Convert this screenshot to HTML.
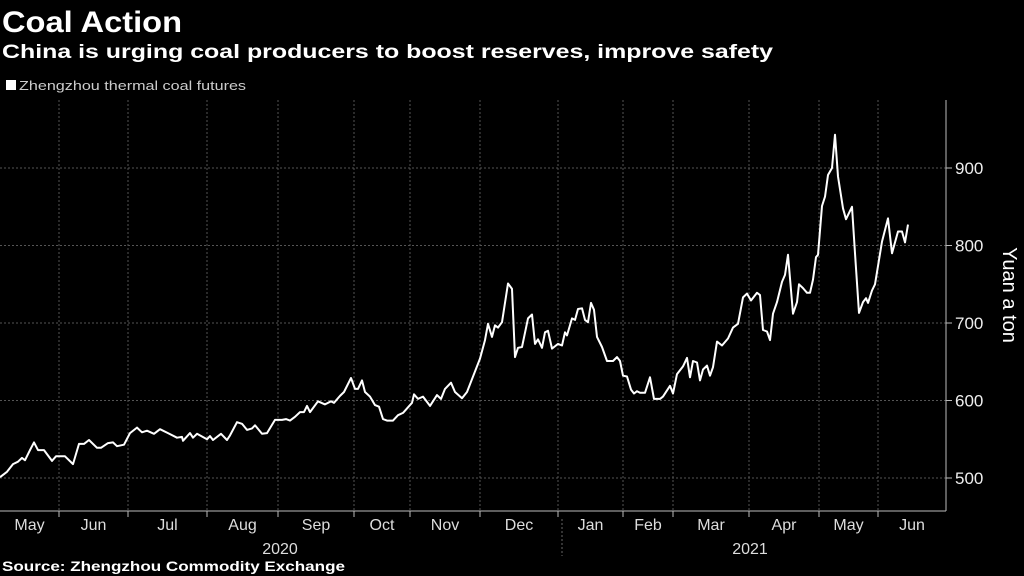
<!DOCTYPE html>
<html><head><meta charset="utf-8"><style>
html,body{margin:0;padding:0;background:#000;}
svg{display:block;font-family:"Liberation Sans",sans-serif;}
</style></head><body>
<svg id="chart" width="1024" height="576" viewBox="0 0 1024 576" xmlns="http://www.w3.org/2000/svg">
<rect width="1024" height="576" fill="#000"/>
<text x="2" y="32" fill="#fff" font-size="30" font-weight="bold" textLength="180" lengthAdjust="spacingAndGlyphs">Coal Action</text>
<text x="2" y="58" fill="#fff" font-size="19" font-weight="bold" textLength="771" lengthAdjust="spacingAndGlyphs">China is urging coal producers to boost reserves, improve safety</text>
<g>
<rect x="6" y="80" width="10" height="10" fill="#fff"/>
<text x="19" y="90" fill="#ccc" font-size="13" textLength="227" lengthAdjust="spacingAndGlyphs">Zhengzhou thermal coal futures</text>
</g>
<g id="grid"></g>
<g id="axes"></g>
<g id="series"></g>
<text transform="translate(1003,295) rotate(90)" text-anchor="middle" fill="#fff" font-size="20">Yuan a ton</text>
<text x="280" y="554" text-anchor="middle" fill="#ddd" font-size="16">2020</text>
<text x="750" y="554" text-anchor="middle" fill="#ddd" font-size="16">2021</text>
<line x1="562" y1="519" x2="562" y2="556" stroke="#666" stroke-dasharray="2,2"/>
<text x="2" y="571" fill="#fff" font-size="14" font-weight="bold" textLength="343" lengthAdjust="spacingAndGlyphs">Source: Zhengzhou Commodity Exchange</text>
</svg>
<script>
const days=[0,2.8,5.2,7.2,8.8,10,12,13.6,15.2,17.6,20.8,22.4,26,29.2,31.6,33.6,35.6,38.8,40.4,43.2,45.2,46.8,49.6,52,54.8,56.8,58.8,61.6,64,67.2,70.8,72.8,73.2,76,77.2,78.8,82.8,84,85.2,88.4,90.8,92,94.8,96.8,98.8,100.8,102,104.8,106.8,110,112.8,114.4,116,118,120,121.6,122.8,124,127.2,130,132.4,133.6,136,137.6,140.4,142,143.2,144.8,146,148,150,151.6,153.2,154.8,157.2,159.2,161.2,164.8,165.6,167.2,169.2,172,174.8,176.4,178,180.4,182,184.8,186.8,192,194,195.2,196.8,198,199.2,200.8,203.2,204.8,206,207.2,208.8,211.2,212.8,214,215.2,216.8,218,219.2,220.8,223.2,224.8,226,226.8,228.8,230,231.2,232.8,234,235.2,236.4,237.6,238.8,240.8,242.8,245.2,246.8,248,249.2,250.8,252.4,253.6,254.8,256,258,260,261.6,264,265.2,268,269.2,270.8,273.2,274.8,276,277.2,278.8,280,281.2,282.8,284,285.2,286.8,288.8,291.2,293.2,295.2,297.2,298.8,300.4,302.8,304,305.2,306.8,308,309.2,310.8,312.8,314,315.2,317.2,318.8,319.6,321.2,322.8,324,325.2,326.4,327.2,328.8,330,331.2,332.8,334,335.2,337.2,338.4,340.8,342,343.6,345.2,346.4,347.2,348.8,350,352.8,355.2,356.8,359.2,360.8,362,363.2];
const prices=[501,508,518,521,526,523,536,546,536,536,522,528,528,518,544,544,549,539,539,545,546,541,543,558,565,559,561,557,563,558,552,553,548,558,552,557,550,554,549,557,549,555,572,570,562,564,568,557,558,575,575,576,574,579,585,585,593,585,599,595,599,597,606,611,629,615,615,626,611,605,594,592,576,574,574,581,584,597,608,602,605,593,607,602,615,623,611,603,611,654,678,699,682,697,694,701,751,744,656,668,669,706,711,673,679,668,688,690,667,673,671,688,684,706,704,718,719,704,701,726,717,682,669,651,651,656,651,632,631,614,609,612,610,610,630,602,602,605,619,609,634,644,655,630,651,649,626,640,645,632,643,676,671,680,694,699,733,738,729,739,736,691,689,678,712,727,753,762,788,712,727,750,745,739,739,756,785,788,851,863,891,900,943,889,848,834,850,790,713,727,732,726,742,750,805,835,790,818,818,804,827];
const yTicks=[500,600,700,800,900];
const monthTicks=[23.6,51.2,82.8,111.2,141.6,164,192,223.2,249.2,269.2,299.6,327.6,351.2];
const monthLabels=["May","Jun","Jul","Aug","Sep","Oct","Nov","Dec","Jan","Feb","Mar","Apr","May","Jun"];
const xDomain=[0,378.4], yDomain=[500,900];
const X0=0,X1=946,Y0=478,Y1=168;
const NS="http://www.w3.org/2000/svg";
function xs(d){return X0+(d-xDomain[0])/(xDomain[1]-xDomain[0])*(X1-X0);}
function ys(v){return Y0+(v-yDomain[0])/(yDomain[1]-yDomain[0])*(Y1-Y0);}
function mk(tag,attrs,parent){const e=document.createElementNS(NS,tag);for(const k in attrs)e.setAttribute(k,attrs[k]);parent.appendChild(e);return e;}
const grid=document.getElementById('grid'),axes=document.getElementById('axes'),series=document.getElementById('series');
yTicks.forEach(v=>{
  const y=ys(v);
  const g=mk('line',{x1:0,x2:X1,y1:y,y2:y,stroke:'#555','stroke-dasharray':'2,2'},grid);
  
  
  const t=mk('line',{x1:X1,x2:X1+6,y1:y,y2:y,stroke:'#bbb'},axes);
  
  
  const l=mk('text',{x:X1+9,y:y+6,fill:'#eee','font-size':'17'},axes);
  l.textContent=v;
  
  
});
monthTicks.forEach(d=>{
  const x=xs(d);
  const g=mk('line',{x1:x,x2:x,y1:100,y2:511,stroke:'#555','stroke-dasharray':'2,2'},grid);
  
  
  const t=mk('line',{x1:x,x2:x,y1:511,y2:517,stroke:'#bbb'},axes);
  
  
});
const bounds=[xDomain[0]].concat(monthTicks,[xDomain[1]]);
monthLabels.forEach((m,i)=>{
  const l=mk('text',{x:(xs(bounds[i])+xs(bounds[i+1]))/2,y:530,fill:'#ddd','font-size':'16','text-anchor':'middle'},axes);
  l.textContent=m;
  
  
});
const ax=mk('line',{x1:0,x2:X1,y1:511,y2:511,stroke:'#bbb'},axes);


const ay=mk('line',{x1:X1,x2:X1,y1:100,y2:511,stroke:'#bbb'},axes);


const pts=days.map((d,i)=>xs(d).toFixed(1)+','+ys(prices[i]).toFixed(1)).join(' ');
const p=mk('polyline',{points:pts,fill:'none',stroke:'#fff','stroke-width':'2','stroke-linejoin':'round'},series);


</script>
</body></html>
